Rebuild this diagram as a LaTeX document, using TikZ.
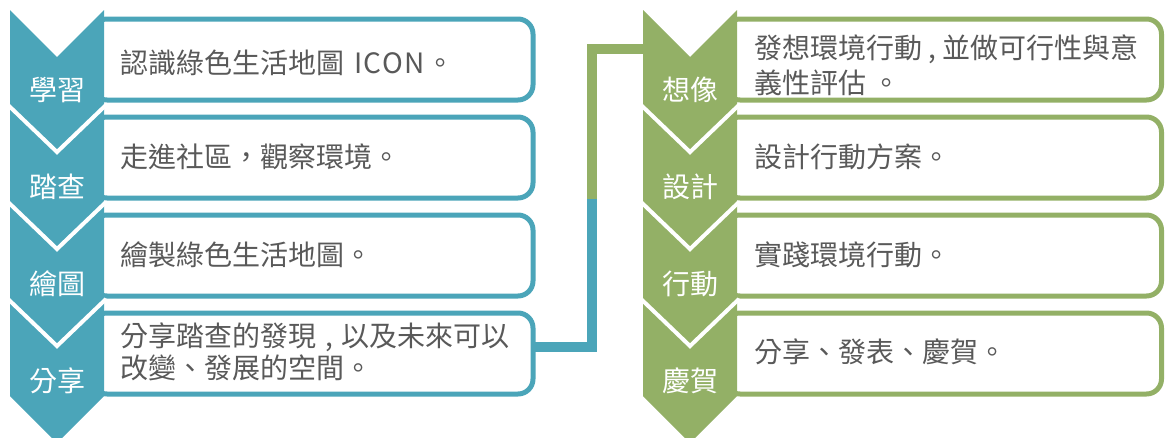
\documentclass[tikz,border=0pt]{standalone}
\usepackage{fontspec}
\newfontfamily\cjk{Noto Sans CJK TC}
\definecolor{tealc}{HTML}{4BA5B9}
\definecolor{greenc}{HTML}{93B066}
\definecolor{txtgray}{HTML}{595959}
\begin{document}
\begin{tikzpicture}[x=1pt,y=-1pt,
  box/.style={draw=#1, line width=5pt, rounded corners=15pt, fill=white,
    minimum height=81pt, inner sep=0pt, outer sep=0pt, anchor=north west},
  txt/.style={font=\cjk\fontsize{28}{32}\selectfont, text=txtgray, inner sep=0pt, anchor=west, align=left},
  lbl/.style={font=\cjk\fontsize{28}{32}\selectfont, text=white, inner sep=0pt},
  conn/.style={draw=#1, line width=10pt},
  gap/.style={draw=white, line width=4pt}]
\useasboundingbox (0,0) rectangle (1165,437);
% connector
\coordinate (j) at (592,199);
\coordinate (chevR) at (648,49);
% left boxes
\foreach \i in {0,1,2,3}{
  \node[box=tealc, minimum width=441pt] (L\i) at (92,{19+98*\i}) {};
}
% right boxes
\foreach \i in {0,1,2,3}{
  \node[box=greenc, minimum width=436.5pt] (R\i) at (725,{19+98*\i}) {};
}
\draw[conn=tealc] ([yshift=7pt]L3.east) -| (j);
\draw[conn=greenc] (j) |- (chevR);
% left chevrons
\fill[tealc] (10,10) -- (57,57) -- (104,10) -- (104,396) -- (57,443) -- (10,396) -- cycle;
\foreach \Y in {105,202,299}{
  \draw[gap] (8,\Y) -- (57,\Y+47) -- (106,\Y);
}
% right chevrons
\fill[greenc] (643,10) -- (690,57) -- (737,10) -- (737,396) -- (690,443) -- (643,396) -- cycle;
\foreach \Y in {105,202,299}{
  \draw[gap] (641,\Y) -- (690,\Y+47) -- (739,\Y);
}
% chevron labels
\node[lbl] (cl1) at (57,90) {學習};
\node[lbl] (cl2) at (57,187) {踏查};
\node[lbl] (cl3) at (57,284) {繪圖};
\node[lbl] (cl4) at (57,381) {分享};
\node[lbl] (cr1) at (690,90) {想像};
\node[lbl] (cr2) at (690,187) {設計};
\node[lbl] (cr3) at (690,284) {行動};
\node[lbl] (cr4) at (690,381) {慶賀};
% texts
\node[txt] (tl1) at (120,63) {認識綠色生活地圖\hspace{10pt}I\hspace{1pt}C\hspace{1pt}O\hspace{1pt}N\hspace{2pt}。};
\node[txt] (tl2) at (120,157) {走進社區，觀察環境。};
\node[txt] (tl3) at (120,255) {繪製綠色生活地圖。};
\node[txt] (tl4) at (120,352) {分享踏查的發現\hspace{9pt},\hspace{9pt}以及未來可以\\改變、發展的空間。};
\node[txt, font=\cjk\fontsize{28}{35}\selectfont] (tr1) at (754,65) {發想環境行動 , 並做可行性與意\\義性評估 。};
\node[txt] (tr2) at (754,157) {設計行動方案。};
\node[txt] (tr3) at (754,255) {實踐環境行動。};
\node[txt] (tr4) at (754,352) {分享、發表、慶賀。};
\end{tikzpicture}
\end{document}
